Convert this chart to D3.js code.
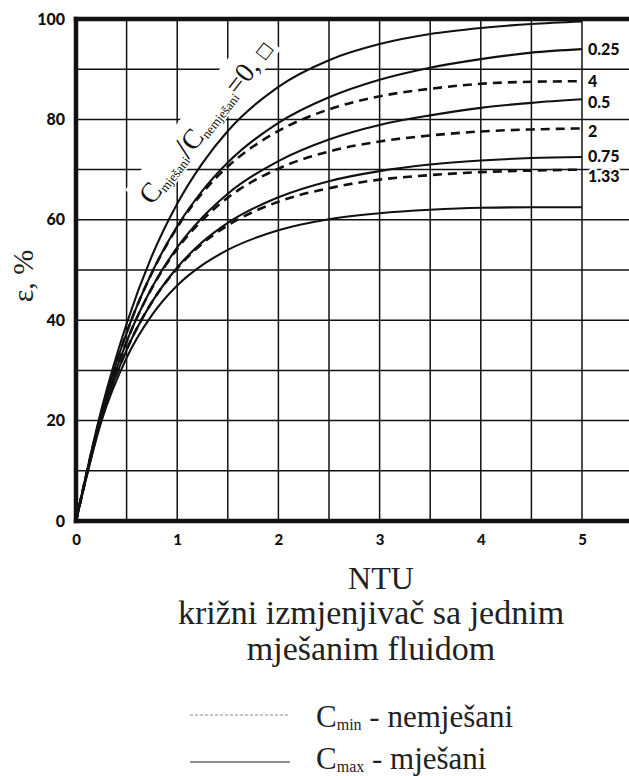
<!DOCTYPE html>
<html>
<head>
<meta charset="utf-8">
<script src="https://cdn.jsdelivr.net/npm/d3@7"></script>
<style>
  html, body { margin: 0; padding: 0; background: #fff; }
  svg { display: block; }
</style>
</head>
<body>
<svg id="chart" width="629" height="776"></svg>
<script>
// ---------------- data ----------------
const ntu = [0, 0.25, 0.5, 0.75, 1, 1.25, 1.5, 2, 2.5, 3, 3.5, 4, 4.5, 5];

// solid curves
const effRatio0   = [0, 22.1, 39.3, 52.8, 63.2, 71.3, 77.7, 86.5, 91.8, 95.0, 97.0, 98.2, 99.0, 99.5];
const effRatio025 = [0, 21.5, 37.5, 49.5, 58.7, 65.8, 71.4, 79.3, 84.4, 87.9, 90.3, 92.0, 93.3, 94.0];
const effRatio05  = [0, 20.9, 35.7, 46.5, 54.5, 60.5, 65.2, 71.7, 76.0, 78.9, 80.8, 82.3, 83.3, 84.0];
const effRatio075 = [0, 20.4, 34.1, 43.6, 50.5, 55.6, 59.4, 64.5, 67.7, 69.7, 71.0, 71.8, 72.3, 72.5];
const effRatio1   = [0, 19.8, 32.5, 41.0, 46.9, 51.0, 54.0, 57.9, 60.1, 61.3, 62.0, 62.4, 62.5, 62.5];

// dashed curves
const effRatio4   = [0, 21.5, 37.5, 49.4, 58.5, 65.4, 70.6, 77.7, 82.0, 84.6, 86.1, 87.1, 87.5, 87.6];
const effRatio2   = [0, 20.9, 35.7, 46.4, 54.2, 60.0, 64.4, 70.2, 73.6, 75.6, 76.8, 77.6, 78.0, 78.2];
const effRatio133 = [0, 20.4, 34.1, 43.6, 50.3, 55.3, 58.9, 63.6, 66.3, 68.0, 68.9, 69.5, 69.8, 70.0];

const solidSeries  = [effRatio0, effRatio025, effRatio05, effRatio075, effRatio1];
const solidLabels  = ["", "0.25", "0.5", "0.75", ""];
const dashedSeries = [effRatio4, effRatio2, effRatio133];
const dashedLabels = ["4", "2", "1.33"];

const xTickValues = [0, 1, 2, 3, 4, 5];
const yTickValues = [0, 20, 40, 60, 80, 100];
const xGridValues = [0.5, 1, 1.5, 2, 2.5, 3, 3.5, 4, 4.5, 5, 5.5];
const yGridValues = [10, 20, 30, 40, 50, 60, 70, 80, 90];

const yAxisTitle = "ε, %";
const xAxisTitle = "NTU";
const subtitleLines = ["križni izmjenjivač sa jednim", "mješanim fluidom"];
const legendItems = [
  { sub: "min", text: " - nemješani", dashed: true },
  { sub: "max", text: " - mješani", dashed: false }
];

// ---------------- drawing ----------------
const W = 629, H = 776;
const SERIF = '"Liberation Serif", "Times New Roman"';
const SANS = '"Lato", "Open Sans"';
const svg = d3.select("#chart");
const x = d3.scaleLinear().domain([0, 5]).range([76, 582]);
const y = d3.scaleLinear().domain([0, 100]).range([521, 19]);

// grid
const grid = svg.append("g");
grid.selectAll("line.v").data(xGridValues).join("line")
  .attr("x1", d => x(d)).attr("x2", d => x(d))
  .attr("y1", y(100)).attr("y2", y(0))
  .attr("stroke", "#111").attr("stroke-width", 1.5);
grid.selectAll("line.h").data(yGridValues).join("line")
  .attr("x1", x(0)).attr("x2", W)
  .attr("y1", d => y(d)).attr("y2", d => y(d))
  .attr("stroke", "#111").attr("stroke-width", 1.5);

// rotated label (white backing over the grid)
const lab = svg.append("g").attr("transform", "translate(152,206) rotate(-52)");
const labBg = lab.append("rect").attr("fill", "#fff");
const lt = lab.append("text").style("font-family", SERIF).attr("fill", "#111").attr("font-size", 28);
lt.append("tspan").text("C");
lt.append("tspan").attr("font-size", 13).attr("dy", 3).text("mješani");
lt.append("tspan").attr("font-size", 32).attr("dy", -3).text("/");
lt.append("tspan").text("C");
lt.append("tspan").attr("font-size", 13).attr("dy", 3).text("nemješani");
lt.append("tspan").attr("dy", -3).text("=0, ");
lt.append("tspan").style("font-family", '"DejaVu Sans"').attr("font-size", 17).attr("dy", -2).text("□");
const lb = lt.node().getBBox();
labBg.attr("x", lb.x - 4).attr("y", lb.y - 2).attr("width", lb.width + 8).attr("height", lb.height);

// curves
const line = d3.line().x((d, i) => x(ntu[i])).y(d => y(d)).curve(d3.curveMonotoneX);
svg.append("g").selectAll("path").data(solidSeries).join("path")
  .attr("d", d => line(d)).attr("fill", "none")
  .attr("stroke", "#111").attr("stroke-width", 2.1);
svg.append("g").selectAll("path").data(dashedSeries).join("path")
  .attr("d", d => line(d)).attr("fill", "none")
  .attr("stroke", "#111").attr("stroke-width", 2.6).attr("stroke-dasharray", "9,6");

// frame
const frame = svg.append("g").attr("stroke", "#111").attr("stroke-width", 4.5).attr("stroke-linecap", "square");
frame.append("line").attr("x1", x(0)).attr("x2", W).attr("y1", y(100)).attr("y2", y(100));
frame.append("line").attr("x1", x(0)).attr("x2", W).attr("y1", y(0)).attr("y2", y(0));
frame.append("line").attr("x1", x(0)).attr("x2", x(0)).attr("y1", y(100)).attr("y2", y(0));

// tick labels via d3 axes
const xAxis = svg.append("g").attr("transform", `translate(0,${y(0)})`)
  .call(d3.axisBottom(x).tickValues(xTickValues).tickSize(0).tickPadding(13).tickFormat(d3.format("d")));
const yAxis = svg.append("g").attr("transform", `translate(${x(0)},0)`)
  .call(d3.axisLeft(y).tickValues(yTickValues).tickSize(0).tickPadding(11).tickFormat(d3.format("d")));
[xAxis, yAxis].forEach(a => {
  a.select(".domain").remove();
  a.attr("font-family", null).attr("font-size", null);
  a.selectAll("text").style("font-family", SANS).attr("font-weight", 900)
    .attr("font-size", 16).attr("fill", "#111");
});
xAxis.selectAll("text").attr("font-size", 15);

// right-hand ratio labels
const endLabels = [];
solidSeries.forEach((s, i) => { if (solidLabels[i]) endLabels.push({ t: solidLabels[i], v: s[s.length - 1] }); });
dashedSeries.forEach((s, i) => endLabels.push({ t: dashedLabels[i], v: s[s.length - 1] }));
const labelShift = { "0.25": 0, "4": 0, "0.5": 2.5, "2": 2.5, "0.75": -1, "1.33": 7 };
svg.append("g").selectAll("text").data(endLabels).join("text")
  .style("font-family", SANS)
  .attr("x", x(5) + 6).attr("y", d => y(d.v) + labelShift[d.t]).attr("dy", "0.36em")
  .attr("font-weight", 900).attr("font-size", 16).attr("fill", "#111")
  .attr("stroke", "#fff").attr("stroke-width", 5).attr("paint-order", "stroke")
  .text(d => d.t);

// y-axis title
svg.append("text").style("font-family", SERIF).attr("transform", "translate(33,276) rotate(-90)")
  .attr("text-anchor", "middle").attr("font-size", 30).attr("fill", "#222")
  .text(yAxisTitle);

// x-axis title and subtitle
svg.append("text").style("font-family", SERIF).attr("x", 381).attr("y", 589).attr("text-anchor", "middle")
  .attr("font-size", 32).attr("fill", "#222").text(xAxisTitle);
svg.append("g").selectAll("text").data(subtitleLines).join("text")
  .style("font-family", SERIF)
  .attr("x", 371).attr("y", (d, i) => 624 + i * 36).attr("text-anchor", "middle")
  .attr("font-size", 34).attr("fill", "#222").text(d => d);

// legend
const leg = svg.append("g");
legendItems.forEach((it, i) => {
  const yy = 715 + i * 47;
  leg.append("line").attr("x1", 190).attr("x2", 290).attr("y1", yy).attr("y2", yy)
    .attr("stroke", it.dashed ? "#888" : "#222").attr("stroke-width", it.dashed ? 1 : 1.2)
    .attr("stroke-dasharray", it.dashed ? "3,2" : null);
  const t = leg.append("text").style("font-family", SERIF).attr("x", 316).attr("y", yy + 12 - i * 5)
    .attr("font-size", 31).attr("fill", "#222");
  t.append("tspan").text("C");
  t.append("tspan").attr("font-size", 16).attr("dy", 3).text(it.sub);
  t.append("tspan").attr("dy", -3).text(it.text);
});
</script>
</body>
</html>
